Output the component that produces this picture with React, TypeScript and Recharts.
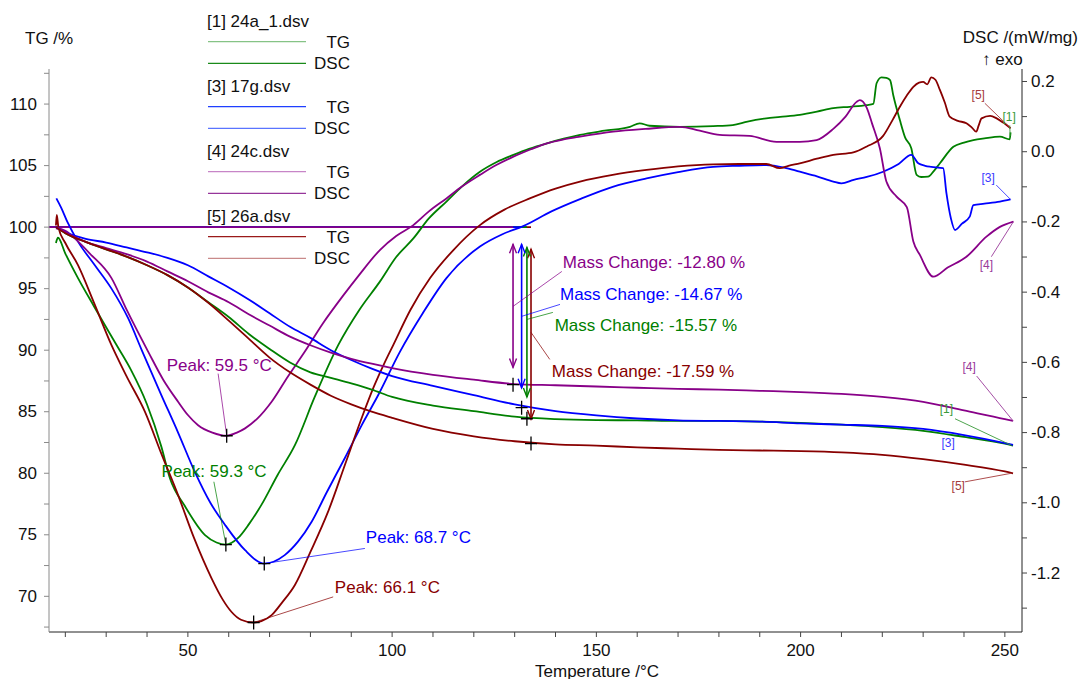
import React from "react";
import { LineChart, Line, XAxis, YAxis, ReferenceLine, ReferenceDot } from "recharts";

const FONT = '"Liberation Sans", Arial, Helvetica, sans-serif';
const GREEN = "#008000";
const BLUE = "#0000ff";
const PURPLE = "#880088";
const RED = "#880000";

// ---------- TG data (left axis, %) ----------
const tgTemps = [17.7, 20, 25, 30, 35, 40, 45, 50, 55, 60, 65, 70, 75, 80, 85, 90, 95, 100, 110, 120, 130, 140, 150, 160, 170, 180, 190, 200, 210, 220, 230, 240, 250, 252];
const tg1 = [100, 99.5, 98.8, 98.2, 97.6, 96.9, 96.1, 95.1, 93.9, 92.7, 91.3, 90.1, 89.0, 88.2, 87.75, 87.3, 86.8, 86.2, 85.5, 85.05, 84.6, 84.4, 84.32, 84.3, 84.25, 84.25, 84.2, 84.1, 83.95, 83.75, 83.45, 82.95, 82.4, 82.25];
const tg3 = [100, 99.6, 99.05, 98.75, 98.35, 97.95, 97.5, 96.9, 96.0, 95.1, 94.1, 93.0, 91.9, 91.0, 90.0, 89.2, 88.5, 87.9, 87.1, 86.35, 85.6, 85.05, 84.7, 84.45, 84.3, 84.25, 84.2, 84.05, 83.95, 83.85, 83.6, 83.1, 82.45, 82.3];
const tg4 = [100, 99.6, 98.8, 98.3, 97.8, 97.2, 96.4, 95.6, 94.7, 93.9, 92.9, 92.0, 91.1, 90.4, 89.8, 89.3, 88.9, 88.55, 88.0, 87.6, 87.25, 87.15, 87.05, 86.95, 86.85, 86.8, 86.7, 86.6, 86.45, 86.2, 85.8, 85.1, 84.4, 84.25];
const tg5 = [100, 99.5, 98.8, 98.2, 97.6, 96.9, 96.1, 95.1, 93.85, 92.4, 90.9, 89.4, 88.2, 87.2, 86.3, 85.6, 85.0, 84.5, 83.6, 83.0, 82.6, 82.35, 82.25, 82.1, 82.0, 81.9, 81.85, 81.8, 81.7, 81.5, 81.15, 80.7, 80.15, 80.0];

// ---------- DSC data (right axis, mW/mg) ----------
const dscTemps1 = [17.7, 18.2, 20, 23.1, 27, 32.5, 36, 40, 43.5, 45.6, 49.3, 54.2, 57, 59.3, 62.3, 65, 68, 72, 76.2, 81, 86.8, 92, 97, 101, 105.2, 109, 113.3, 117, 121.5, 125.5, 129.7, 133.5, 137.9, 142, 146, 152, 158.2, 160.6, 163, 170.4, 178.6, 183.4, 187, 191.6, 195, 199.8, 204, 208, 212, 216.2, 217.8, 218.6, 219.8, 221, 221.9, 222.7, 224.3, 225.6, 227.1, 228.4, 229.5, 231.2, 232.6, 234.1, 237.4, 240, 242.3, 245, 248.8, 251.2, 251.4];
const dsc1 = [-0.26, -0.245, -0.29, -0.36, -0.44, -0.55, -0.62, -0.72, -0.84, -0.93, -1.01, -1.092, -1.113, -1.119, -1.10, -1.06, -1.006, -0.92, -0.836, -0.70, -0.551, -0.45, -0.37, -0.30, -0.247, -0.19, -0.142, -0.10, -0.057, -0.03, -0.009, 0.008, 0.024, 0.037, 0.048, 0.06, 0.071, 0.081, 0.074, 0.071, 0.073, 0.076, 0.086, 0.095, 0.099, 0.105, 0.114, 0.124, 0.128, 0.133, 0.136, 0.195, 0.212, 0.21, 0.204, 0.16, 0.09, 0.04, 0.01, -0.066, -0.072, -0.071, -0.055, -0.033, 0.014, 0.026, 0.033, 0.038, 0.043, 0.035, 0.055];

const dscTemps3 = [17.8, 19, 20.5, 23.1, 27, 31.3, 35.4, 38.7, 43.5, 47.6, 51.7, 55.5, 59.1, 64, 68.7, 73.7, 77, 80.3, 84, 88.4, 92.5, 96.6, 101.9, 107.5, 113.3, 121.5, 127, 132.1, 139, 146, 154, 162.3, 170, 178.6, 185, 191.6, 196, 199.8, 204, 208, 210, 213, 216.2, 220.2, 224, 227.1, 228.8, 230.5, 232, 234.9, 235.7, 236.8, 237.8, 239.5, 241.4, 242.3, 245, 248.8, 251.4];
const dsc3 = [-0.133, -0.16, -0.2, -0.256, -0.32, -0.39, -0.475, -0.565, -0.693, -0.8, -0.912, -1.0, -1.063, -1.135, -1.173, -1.149, -1.11, -1.054, -0.97, -0.873, -0.78, -0.693, -0.57, -0.46, -0.36, -0.27, -0.235, -0.212, -0.17, -0.135, -0.1, -0.076, -0.058, -0.043, -0.04, -0.038, -0.045, -0.057, -0.07, -0.085, -0.09, -0.08, -0.072, -0.057, -0.035, -0.009, -0.033, -0.04, -0.043, -0.047, -0.118, -0.19, -0.223, -0.205, -0.185, -0.152, -0.148, -0.142, -0.136];

const dscTemps4 = [17.7, 20, 22.3, 26, 31.3, 35, 40.3, 44, 47.6, 50, 52.5, 56, 59.5, 62, 64, 67, 70.5, 74.5, 78.6, 83, 88, 92, 97, 101, 105.2, 109, 113.3, 117, 121.5, 125.5, 129.7, 134, 137.9, 142, 146, 154.1, 162, 170.4, 175.3, 180.2, 187.5, 194.1, 199.8, 203.9, 208, 211, 213.7, 214.5, 216.2, 217.5, 219.4, 221, 223.5, 226, 227.6, 229.2, 232.5, 236, 240.6, 245.5, 248.8, 252.1];
const dsc4 = [-0.218, -0.225, -0.247, -0.29, -0.36, -0.45, -0.57, -0.65, -0.712, -0.75, -0.779, -0.8, -0.809, -0.8, -0.788, -0.76, -0.712, -0.64, -0.57, -0.49, -0.41, -0.35, -0.28, -0.24, -0.209, -0.17, -0.133, -0.1, -0.066, -0.038, -0.014, 0.007, 0.024, 0.035, 0.043, 0.057, 0.065, 0.071, 0.06, 0.048, 0.045, 0.028, 0.028, 0.033, 0.065, 0.1, 0.142, 0.147, 0.125, 0.08, 0.01, -0.085, -0.128, -0.158, -0.256, -0.294, -0.356, -0.33, -0.299, -0.242, -0.214, -0.199];

const dscTemps5 = [17.7, 17.9, 18.3, 20, 23.1, 27, 31.3, 35, 39.5, 43.5, 47.6, 51.5, 55.8, 58.5, 60.7, 63, 66.1, 68, 70.5, 73, 76.2, 80, 84.3, 88.5, 92.5, 95.5, 98.2, 100.3, 104.5, 109.3, 115, 121.5, 127.5, 133.7, 140, 146, 154, 162.3, 170, 178.6, 185, 191.6, 194.9, 197, 199.8, 204, 208, 212.9, 216.2, 220.2, 222.5, 224.3, 226, 227.6, 229, 230, 231, 232, 233, 234.1, 235.3, 236.5, 238.5, 240.6, 242, 243, 243.6, 244.3, 246.4, 248, 249.6, 251.4];
const dsc5 = [-0.21, -0.18, -0.215, -0.26, -0.323, -0.43, -0.551, -0.64, -0.741, -0.86, -0.978, -1.1, -1.215, -1.275, -1.311, -1.333, -1.341, -1.337, -1.32, -1.285, -1.234, -1.14, -1.026, -0.89, -0.76, -0.67, -0.6, -0.55, -0.45, -0.36, -0.28, -0.209, -0.165, -0.133, -0.105, -0.085, -0.066, -0.052, -0.042, -0.036, -0.035, -0.035, -0.047, -0.04, -0.033, -0.02, -0.009, -0.002, 0.015, 0.045, 0.09, 0.128, 0.16, 0.185, 0.197, 0.199, 0.192, 0.212, 0.205, 0.176, 0.14, 0.1, 0.088, 0.081, 0.068, 0.057, 0.075, 0.095, 0.102, 0.095, 0.083, 0.067];

// ---------- Annotation values ----------
const sampleNames = ["[1] 24a_1.dsv", "[3] 17g.dsv", "[4] 24c.dsv", "[5] 26a.dsv"];
const peakTemps = [59.3, 68.7, 59.5, 66.1]; // samples 1,3,4,5
const peakDsc = [-1.119, -1.173, -0.809, -1.341];
const massChanges = [-15.57, -14.67, -12.8, -17.59]; // samples 1,3,4,5
const massChangeTemps = [133.0, 131.7, 129.6, 134.0];

// ticks
const xTicks = [20, 30, 40, 50, 60, 70, 80, 90, 100, 110, 120, 130, 140, 150, 160, 170, 180, 190, 200, 210, 220, 230, 240, 250];
const tgTicks = [67.5, 70, 72.5, 75, 77.5, 80, 82.5, 85, 87.5, 90, 92.5, 95, 97.5, 100, 102.5, 105, 107.5, 110, 112.5];
const dscTicks = [-1.3, -1.2, -1.1, -1.0, -0.9, -0.8, -0.7, -0.6, -0.5, -0.4, -0.3, -0.2, -0.1, 0.0, 0.1, 0.2];

const zip = (ts: number[], vs: number[]) => ts.map((t, i) => ({ t, v: vs[i] }));

const LeftTick = (p: any) => {
  const v = p.payload.value;
  if (Math.abs(v % 5) > 1e-6) return <g />;
  return (
    <text x={p.x} y={p.y} textAnchor="end" dominantBaseline="central" fontSize={17} fontFamily={FONT} fill="#111">
      {v}
    </text>
  );
};
const RightTick = (p: any) => {
  const v = p.payload.value;
  if (Math.abs(Math.round(v * 10)) % 2 !== 0) return <g />;
  return (
    <text x={p.x} y={p.y} textAnchor="start" dominantBaseline="central" fontSize={17} fontFamily={FONT} fill="#111">
      {v.toFixed(1)}
    </text>
  );
};
const BottomTick = (p: any) => {
  const v = p.payload.value;
  if (v % 50 !== 0) return <g />;
  return (
    <text x={p.x} y={p.y + 7} textAnchor="middle" dominantBaseline="central" fontSize={17} fontFamily={FONT} fill="#111">
      {v}
    </text>
  );
};

const makeText = (text: string, color: string, size: number, anchor: string) => (p: any) => (
  <text x={p.cx} y={p.cy} fill={color} fontSize={size} fontFamily={FONT} textAnchor={anchor} dominantBaseline="central">
    {text}
  </text>
);
const plusShape = (p: any) => (
  <path d={`M${p.cx - 6},${p.cy}H${p.cx + 6}M${p.cx},${p.cy - 7}V${p.cy + 7}`} stroke="#000" strokeWidth={1.3} fill="none" />
);
const makeArrow = (color: string) => (p: any) => {
  const x = p.x1;
  const top = Math.min(p.y1, p.y2);
  const bot = Math.max(p.y1, p.y2);
  const w = 3.5;
  const h = 9;
  return (
    <g>
      <line x1={x} y1={top} x2={x} y2={bot} stroke={color} strokeWidth={1.6} />
      <path
        d={`M${x - w},${top + h}L${x},${top}L${x + w},${top + h}M${x - w},${bot - h}L${x},${bot}L${x + w},${bot - h}`}
        fill="none"
        stroke={color}
        strokeWidth={1.4}
      />
    </g>
  );
};

// annotation placements (data coordinates)
const peakNotes = [
  { i: 2, color: PURPLE, text: [44.8, -0.6077], lead: [57.4, -0.632] },
  { i: 0, color: GREEN, text: [43.56, -0.9117], lead: [56.36, -0.94] },
  { i: 1, color: BLUE, text: [93.57, -1.0986], lead: [93.33, -1.13] },
  { i: 3, color: RED, text: [85.98, -1.241], lead: [85.57, -1.268] },
];
const massNotes = [
  { i: 3, color: RED, text: [139.1, 88.28], lead: [138.6, 89.25], arrowLead: 91.45, top: 98.2, bottom: 84.4 },
  { i: 0, color: GREEN, text: [139.8, 92.0], lead: [139.35, 93.07], arrowLead: 92.5, top: 98.35, bottom: 86.2 },
  { i: 1, color: BLUE, text: [141.1, 94.53], lead: [141.1, 93.72], arrowLead: 92.75, top: 98.6, bottom: 86.95 },
  { i: 2, color: PURPLE, text: [141.8, 97.12], lead: [141.55, 96.4], arrowLead: 93.56, top: 98.6, bottom: 88.6 },
];
const curveLabelsDsc = [
  { label: "[5]", color: "#a53a3a", text: [243.5, 0.1615], from: [245.1, 0.138], to: [251.4, 0.067] },
  { label: "[1]", color: "#3a9a3a", text: [251.05, 0.098], from: [251.2, 0.075], to: [251.3, 0.045] },
  { label: "[3]", color: "#3a3aff", text: [245.9, -0.0758], from: [247.9, -0.095], to: [251.4, -0.136] },
  { label: "[4]", color: "#9a3a9a", text: [245.5, -0.3228], from: [246.7, -0.299], to: [252.1, -0.199] },
];
const curveLabelsTg = [
  { label: "[4]", color: "#9a3a9a", text: [241.25, 88.66], from: [243.1, 87.9], to: [252.05, 84.24] },
  { label: "[1]", color: "#3a9a3a", text: [235.7, 85.19], from: [237.8, 84.43], to: [251.6, 82.27] },
  { label: "[3]", color: "#3a3aff", text: [236.1, 82.49], from: null, to: null },
  { label: "[5]", color: "#a53a3a", text: [238.6, 78.96], from: [240.2, 79.3], to: [251.6, 80.0] },
];

const sampleColors = [GREEN, BLUE, PURPLE, RED];
const legendColors = [
  { tg: "#86c386", dsc: "#1a8a1a" },
  { tg: "#1f3fff", dsc: "#5a74ff" },
  { tg: "#c785c7", dsc: "#96359a" },
  { tg: "#9a1a1a", dsc: "#c98a8a" },
];

export default function App() {
  const tgSeries = [tg1, tg3, tg4, tg5].map((vs) => zip(tgTemps, vs));
  const dscSeries = [
    zip(dscTemps1, dsc1),
    zip(dscTemps3, dsc3),
    zip(dscTemps4, dsc4),
    zip(dscTemps5, dsc5),
  ];

  return (
    <div style={{ position: "absolute", left: 0, top: 0, width: 1081, height: 679, background: "#fff", overflow: "hidden" }}>
      <LineChart width={1081} height={679} margin={{ top: 69, right: 9, bottom: 17, left: 9 }} style={{ fontFamily: FONT }}>
        <XAxis
          dataKey="t"
          type="number"
          domain={[16, 254.2]}
          allowDataOverflow
          ticks={xTicks}
          interval={0}
          tick={<BottomTick />}
          tickSize={5}
          tickMargin={6}
          height={30}
          axisLine={{ stroke: "#222" }}
          tickLine={{ stroke: "#444" }}
        />
        <YAxis
          yAxisId="tg"
          orientation="left"
          type="number"
          domain={[67.1, 112.85]}
          allowDataOverflow
          ticks={tgTicks}
          interval={0}
          tick={<LeftTick />}
          tickSize={5}
          tickMargin={7}
          width={40}
          axisLine={{ stroke: "#8a8a8a" }}
          tickLine={{ stroke: "#8a8a8a" }}
        />
        <YAxis
          yAxisId="dsc"
          orientation="right"
          type="number"
          domain={[-1.368, 0.2356]}
          allowDataOverflow
          ticks={dscTicks}
          interval={0}
          tick={<RightTick />}
          tickSize={5}
          tickMargin={4}
          width={50}
          axisLine={{ stroke: "#222" }}
          tickLine={{ stroke: "#444" }}
        />

        {/* 100 % base lines of mass-change evaluation */}
        {massNotes.map((m) => (
          <ReferenceLine
            key={"base" + m.i}
            yAxisId="tg"
            segment={[{ x: 16, y: 100 }, { x: massChangeTemps[m.i], y: 100 }]}
            stroke={m.color}
            strokeWidth={1.8}
          />
        ))}

        {dscSeries.map((d, i) => (
          <Line
            key={"dsc" + i}
            yAxisId="dsc"
            data={d}
            dataKey="v"
            type="monotone"
            stroke={sampleColors[i]}
            strokeWidth={1.8}
            dot={false}
            activeDot={false}
            isAnimationActive={false}
          />
        ))}
        {tgSeries.map((d, i) => (
          <Line
            key={"tg" + i}
            yAxisId="tg"
            data={d}
            dataKey="v"
            type="monotone"
            stroke={sampleColors[i]}
            strokeWidth={1.8}
            dot={false}
            activeDot={false}
            isAnimationActive={false}
          />
        ))}

        {/* Mass change arrows and labels */}
        {massNotes.map((m) => (
          <ReferenceLine
            key={"arrow" + m.i}
            yAxisId="tg"
            segment={[{ x: massChangeTemps[m.i], y: m.top }, { x: massChangeTemps[m.i], y: m.bottom }]}
            shape={makeArrow(m.color)}
          />
        ))}
        {massNotes.map((m) => (
          <ReferenceLine
            key={"mlead" + m.i}
            yAxisId="tg"
            segment={[{ x: m.lead[0], y: m.lead[1] }, { x: massChangeTemps[m.i], y: m.arrowLead }]}
            stroke={m.color}
            strokeWidth={0.9}
            strokeOpacity={0.8}
          />
        ))}
        {massNotes.map((m) => (
          <ReferenceDot
            key={"mtext" + m.i}
            yAxisId="tg"
            x={m.text[0]}
            y={m.text[1]}
            r={0}
            shape={makeText(`Mass Change: ${massChanges[m.i].toFixed(2)} %`, m.color, 17, "start")}
          />
        ))}
        {massNotes.map((m) => (
          <ReferenceDot
            key={"mplus" + m.i}
            yAxisId="tg"
            x={massChangeTemps[m.i]}
            y={100 + massChanges[m.i]}
            r={0}
            shape={plusShape}
          />
        ))}

        {/* Peak annotations */}
        {peakNotes.map((n) => (
          <ReferenceLine
            key={"plead" + n.i}
            yAxisId="dsc"
            segment={[{ x: n.lead[0], y: n.lead[1] }, { x: peakTemps[n.i], y: peakDsc[n.i] }]}
            stroke={n.color}
            strokeWidth={0.9}
            strokeOpacity={0.8}
          />
        ))}
        {peakNotes.map((n) => (
          <ReferenceDot
            key={"ptext" + n.i}
            yAxisId="dsc"
            x={n.text[0]}
            y={n.text[1]}
            r={0}
            shape={makeText(`Peak: ${peakTemps[n.i].toFixed(1)} °C`, n.color, 17, "start")}
          />
        ))}
        {peakNotes.map((n) => (
          <ReferenceDot key={"pplus" + n.i} yAxisId="dsc" x={peakTemps[n.i]} y={peakDsc[n.i]} r={0} shape={plusShape} />
        ))}

        {/* Curve end labels */}
        {curveLabelsDsc.map((c, k) => (
          <ReferenceLine
            key={"cld" + k}
            yAxisId="dsc"
            segment={[{ x: c.from[0], y: c.from[1] }, { x: c.to[0], y: c.to[1] }]}
            stroke={c.color}
            strokeWidth={0.9}
          />
        ))}
        {curveLabelsDsc.map((c, k) => (
          <ReferenceDot key={"cdt" + k} yAxisId="dsc" x={c.text[0]} y={c.text[1]} r={0} shape={makeText(c.label, c.color, 12, "middle")} />
        ))}
        {curveLabelsTg.map((c, k) =>
          c.from && c.to ? (
            <ReferenceLine
              key={"clt" + k}
              yAxisId="tg"
              segment={[{ x: c.from[0], y: c.from[1] }, { x: c.to[0], y: c.to[1] }]}
              stroke={c.color}
              strokeWidth={0.9}
            />
          ) : null
        )}
        {curveLabelsTg.map((c, k) => (
          <ReferenceDot key={"ctt" + k} yAxisId="tg" x={c.text[0]} y={c.text[1]} r={0} shape={makeText(c.label, c.color, 12, "middle")} />
        ))}
      </LineChart>

      <svg width={1081} height={679} style={{ position: "absolute", left: 0, top: 0, pointerEvents: "none" }}>
        <g fontFamily={FONT} fontSize={17} fill="#111">
          <text x={25} y={38} dominantBaseline="central">TG /%</text>
          <text x={1078} y={37} textAnchor="end" dominantBaseline="central">DSC /(mW/mg)</text>
          <text x={982} y={59} dominantBaseline="central">↑ exo</text>
          <text x={597} y={671} textAnchor="middle" dominantBaseline="central">Temperature /°C</text>
          {sampleNames.map((name, i) => {
            const y0 = 21.7 + i * 65;
            return (
              <g key={name}>
                <text x={207} y={y0} dominantBaseline="central">{name}</text>
                <line x1={208} x2={306} y1={y0 + 20} y2={y0 + 20} stroke={legendColors[i].tg} strokeWidth={1.2} />
                <text x={350} y={y0 + 20.5} textAnchor="end" dominantBaseline="central">TG</text>
                <line x1={208} x2={306} y1={y0 + 41.6} y2={y0 + 41.6} stroke={legendColors[i].dsc} strokeWidth={1.2} />
                <text x={350} y={y0 + 42} textAnchor="end" dominantBaseline="central">DSC</text>
              </g>
            );
          })}
        </g>
      </svg>
    </div>
  );
}
